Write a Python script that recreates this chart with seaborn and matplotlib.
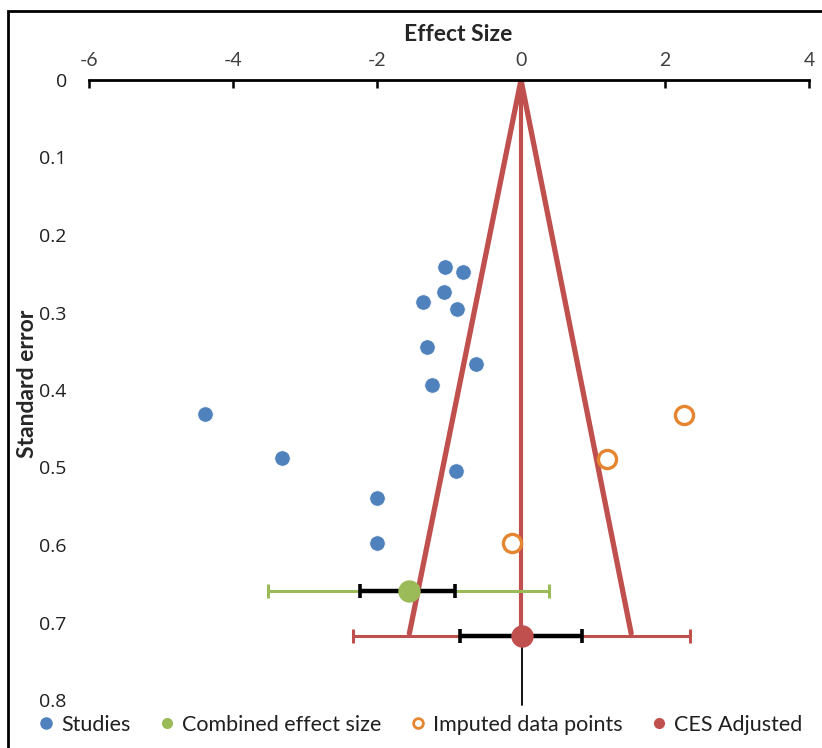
import matplotlib
matplotlib.use("Agg")
import matplotlib.pyplot as plt
from matplotlib.patches import Rectangle
from matplotlib.lines import Line2D
import pandas as pd
import seaborn as sns

# studies (effect size, standard error)
study_es = [-1.06, -0.80, -1.07, -1.36, -0.89, -1.31, -0.62, -1.24, -4.39, -3.32, -0.90, -2.00, -2.00]
study_se = [0.241, 0.248, 0.274, 0.286, 0.295, 0.345, 0.367, 0.394, 0.431, 0.488, 0.504, 0.539, 0.597]

# trim-and-fill imputed points
imputed_es = [2.26, 1.19, -0.12]
imputed_se = [0.432, 0.489, 0.597]

# combined effect size with CI / PI
ces_es, ces_se = -1.55, 0.659
ces_ci = (-2.23, -0.91)
ces_pi = (-3.51, 0.39)

# adjusted combined effect size
adj_es, adj_se = 0.01, 0.718
adj_ci = (-0.85, 0.85)
adj_pi = (-2.34, 2.35)

# funnel outline
funnel_x = [-1.55, 0.0, 1.53]
funnel_y = [0.714, 0.0, 0.714]

blue = "#4F81BD"
green = "#9BBB59"
orange = "#E6852F"
red = "#C0504D"

studies = pd.DataFrame({"es": study_es, "se": study_se})
imputed = pd.DataFrame({"es": imputed_es, "se": imputed_se})

sns.set_theme(style="white")
plt.rcParams["font.family"] = ["Lato", "DejaVu Sans"]
plt.rcParams["axes.unicode_minus"] = False

fig = plt.figure(figsize=(8.22, 7.48), dpi=100)
ax = fig.add_axes([89 / 822, 1 - 700 / 748, 720 / 822, 620 / 748])

# funnel and vertical line at adjusted effect
ax.plot(funnel_x, funnel_y, color=red, lw=3.8, solid_joinstyle="miter", zorder=2)
ax.plot([0, 0], [0, adj_se], color=red, lw=3.0, zorder=2)
ax.plot([adj_es, adj_es], [adj_se, 0.806], color="black", lw=1.3, zorder=2, clip_on=False)

sns.scatterplot(data=studies, x="es", y="se", color=blue, s=125, edgecolor="white",
                linewidth=0.6, ax=ax, zorder=4, legend=False)
sns.scatterplot(data=imputed, x="es", y="se", facecolor="white", edgecolor=orange,
                s=170, linewidth=2.4, ax=ax, zorder=4, legend=False)

# combined effect size bars
ax.errorbar(ces_es, ces_se, xerr=[[ces_es - ces_pi[0]], [ces_pi[1] - ces_es]], fmt="none",
            ecolor=green, elinewidth=2.2, capsize=5, capthick=2.2, zorder=3)
ax.errorbar(ces_es, ces_se, xerr=[[ces_es - ces_ci[0]], [ces_ci[1] - ces_es]], fmt="none",
            ecolor="black", elinewidth=3.2, capsize=5, capthick=2.6, zorder=3)
ax.scatter([ces_es], [ces_se], s=260, color=green, zorder=5, linewidths=0)

# adjusted bars
ax.errorbar(adj_es, adj_se, xerr=[[adj_es - adj_pi[0]], [adj_pi[1] - adj_es]], fmt="none",
            ecolor=red, elinewidth=2.2, capsize=5, capthick=2.2, zorder=3)
ax.errorbar(adj_es, adj_se, xerr=[[adj_es - adj_ci[0]], [adj_ci[1] - adj_es]], fmt="none",
            ecolor="black", elinewidth=3.2, capsize=5, capthick=2.6, zorder=3)
ax.scatter([adj_es], [adj_se], s=260, color=red, zorder=5, linewidths=0)

ax.set_xlim(-6, 4)
ax.set_ylim(0.8, 0)
ax.set_xticks([-6, -4, -2, 0, 2, 4])
ax.set_yticks([0, 0.1, 0.2, 0.3, 0.4, 0.5, 0.6, 0.7, 0.8])
ax.set_yticklabels(["0", "0.1", "0.2", "0.3", "0.4", "0.5", "0.6", "0.7", "0.8"])
ax.xaxis.tick_top()
ax.xaxis.set_label_position("top")
for side in ["left", "right", "bottom"]:
    ax.spines[side].set_visible(False)
ax.spines["top"].set_linewidth(2.0)
ax.spines["top"].set_color("black")
ax.tick_params(axis="x", direction="in", length=6, width=1.8, color="black",
               labelsize=14, pad=8, labelcolor="#404040")
ax.tick_params(axis="y", length=0, labelsize=14, pad=16, labelcolor="#202020")
for lab in ax.get_yticklabels():
    lab.set_family(["Open Sans", "DejaVu Sans"])

ax.set_xlabel("Effect Size", fontsize=16.5, fontweight="bold", va="center")
ax.xaxis.set_label_coords(0.5125, 1.0726)
ax.set_ylabel("Standard error", fontsize=16.5, fontweight="bold", va="center")
ax.yaxis.set_label_coords(-0.086, 0.51)

handles = [
    Line2D([], [], ls="none", marker="o", ms=8, color=blue),
    Line2D([], [], ls="none", marker="o", ms=7, color=green),
    Line2D([], [], ls="none", marker="o", ms=7, mfc="white", mec=orange, mew=2),
    Line2D([], [], ls="none", marker="o", ms=7, color=red),
]
fig.legend(handles, ["Studies", "Combined effect size", "Imputed data points", "CES Adjusted"],
           loc="center left", bbox_to_anchor=(35 / 822, 1 - 725 / 748), ncol=4, frameon=False,
           fontsize=15.5, handletextpad=0.2, columnspacing=1.2, handlelength=1.0,
           borderpad=0, borderaxespad=0, labelcolor="#202020")

fig.patches.append(Rectangle((8 / 822, -0.05), 1.1, 1 - 11 / 748 + 0.05, transform=fig.transFigure,
                             fill=False, edgecolor="black", lw=2.0, zorder=0))

fig.savefig("out.png", dpi=100)
